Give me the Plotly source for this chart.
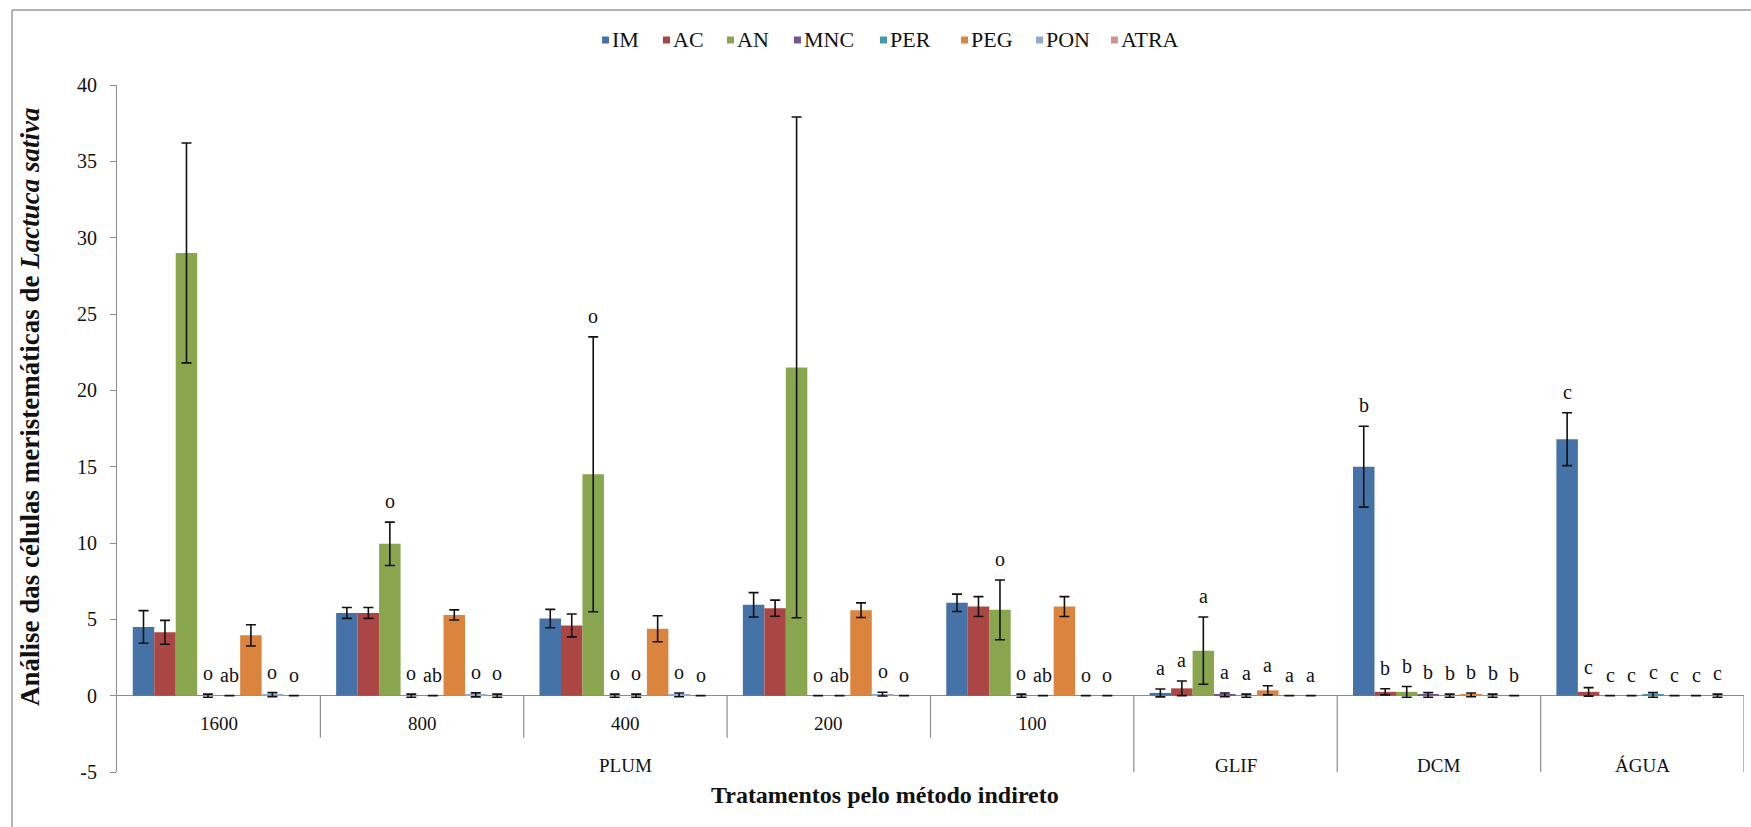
import plotly.graph_objects as go

# ---------------- data ----------------
groups = ["1600", "800", "400", "200", "100", "GLIF", "DCM", "ÁGUA"]
main_groups = ["PLUM", "GLIF", "DCM", "ÁGUA"]
series = ["IM", "AC", "AN", "MNC", "PER", "PEG", "PON", "ATRA"]
colors = ["#4572A7", "#AA4643", "#89A54E", "#71588F", "#4198AF", "#DB843D", "#93A9CF", "#D19392"]

# mean values per series (one value per group)
IM   = [4.5, 5.42, 5.05, 5.95, 6.08, 0.18, 15.0, 16.8]
AC   = [4.15, 5.42, 4.6, 5.73, 5.84, 0.48, 0.25, 0.25]
AN   = [29.0, 9.95, 14.5, 21.5, 5.62, 2.95, 0.25, 0.0]
MNC  = [0.0, 0.0, 0.0, 0.0, 0.0, 0.05, 0.05, 0.0]
PER  = [0.0, 0.0, 0.0, 0.0, 0.0, 0.0, 0.0, 0.05]
PEG  = [3.95, 5.29, 4.38, 5.6, 5.84, 0.35, 0.05, 0.0]
PON  = [0.07, 0.05, 0.05, 0.1, 0.0, 0.0, 0.0, 0.0]
ATRA = [0.0, 0.0, 0.0, 0.0, 0.0, 0.0, 0.0, 0.0]

# standard errors (None = no error bar drawn)
IM_err   = [1.07, 0.36, 0.6, 0.8, 0.57, 0.26, 2.65, 1.73]
AC_err   = [0.78, 0.36, 0.75, 0.53, 0.65, 0.48, 0.2, 0.28]
AN_err   = [7.2, 1.42, 9.0, 16.4, 1.96, 2.2, 0.35, 0.0]
MNC_err  = [0.1, 0.1, 0.1, None, 0.1, 0.12, 0.15, 0.0]
PER_err  = [None, None, 0.1, 0.0, 0.0, 0.1, 0.1, 0.15]
PEG_err  = [0.7, 0.33, 0.85, 0.48, 0.65, 0.3, 0.12, 0.0]
PON_err  = [0.13, 0.13, 0.12, 0.12, 0.0, 0.0, 0.1, 0.0]
ATRA_err = [0.0, 0.1, None, None, None, 0.0, 0.0, 0.1]

# significance letters ("" = none)
IM_lbl   = ["", "", "", "", "", "a", "b", "c"]
AC_lbl   = ["", "", "", "", "", "a", "b", "c"]
AN_lbl   = ["", "o", "o", "", "o", "a", "b", "c"]
MNC_lbl  = ["o", "o", "o", "o", "o", "a", "b", "c"]
PER_lbl  = ["ab", "ab", "o", "ab", "ab", "a", "b", "c"]
PEG_lbl  = ["", "", "", "", "", "a", "b", "c"]
PON_lbl  = ["o", "o", "o", "o", "o", "a", "b", "c"]
ATRA_lbl = ["o", "o", "o", "o", "o", "a", "b", "c"]

y_tick_vals = [-5, 0, 5, 10, 15, 20, 25, 30, 35, 40]
y_tick_text = ["-5", "0", "5", "10", "15", "20", "25", "30", "35", "40"]
y_title = "Análise das células meristemáticas de <i>Lactuca sativa</i>"
x_title = "Tratamentos pelo método indireto"

values = [IM, AC, AN, MNC, PER, PEG, PON, ATRA]
errors = [IM_err, AC_err, AN_err, MNC_err, PER_err, PEG_err, PON_err, ATRA_err]
labels = [IM_lbl, AC_lbl, AN_lbl, MNC_lbl, PER_lbl, PEG_lbl, PON_lbl, ATRA_lbl]

# ---------------- layout geometry (pixels) ----------------
W, H = 1751, 827
L, R, T, B = 117, 1744, 85, 772
BARGAP = 0.155
FONT = "Liberation Serif, Times New Roman, serif"


def px_x(p):
    return (p - L) / (R - L)


def px_y(p):
    return (B - p) / (B - T)


xs = list(range(len(groups)))
fig = go.Figure()
for name, col, v, e in zip(series, colors, values, errors):
    fig.add_trace(go.Bar(
        x=xs, y=v, name=name, marker=dict(color=col, line=dict(width=0)),
        error_y=dict(type="data", array=e, visible=True, color="#111111",
                     thickness=1.6, width=5),
        showlegend=False,
    ))

# letters above bars (positions derived from data + group layout)
annotations = []
n = len(series)
slot = (1 - BARGAP) / n
for i, (v, e, lb) in enumerate(zip(values, errors, labels)):
    off = -(1 - BARGAP) / 2 + (i + 0.5) * slot
    for g in range(len(groups)):
        if lb[g]:
            top = v[g] + (e[g] or 0)
            annotations.append(dict(
                x=g + off, y=top, xref="x", yref="y", text=lb[g], showarrow=False,
                xanchor="center", yanchor="middle", yshift=21,
                font=dict(family=FONT, size=20, color="#111111")))

# category labels
for g in range(5):
    annotations.append(dict(x=g, y=-1.8, xref="x", yref="y", text=groups[g],
                            xanchor="center", yanchor="middle",
                            showarrow=False, font=dict(family=FONT, size=19, color="#111111")))
main_pos = [2, 5, 6, 7]
for name, xp in zip(main_groups, main_pos):
    annotations.append(dict(x=xp, y=-4.6, xref="x", yref="y", text=name,
                            xanchor="center", yanchor="middle",
                            showarrow=False, font=dict(family=FONT, size=19, color="#111111")))

# axis titles
annotations.append(dict(x=px_x(885), y=px_y(795), xref="paper", yref="paper",
                        xanchor="center", yanchor="middle",
                        text="<b>" + x_title + "</b>", showarrow=False,
                        font=dict(family=FONT, size=24, color="#111111")))
annotations.append(dict(x=px_x(30), y=px_y(407), xref="paper", yref="paper",
                        xanchor="center", yanchor="middle",
                        text="<b>" + y_title + "</b>", showarrow=False, textangle=-90,
                        font=dict(family=FONT, size=27, color="#111111")))

# manual legend
leg_sq = [602, 663, 727, 794, 880, 961, 1036, 1111]
shapes = []
for name, col, sx in zip(series, colors, leg_sq):
    shapes.append(dict(type="rect", xref="paper", yref="paper",
                       x0=px_x(sx), x1=px_x(sx + 7), y0=px_y(43.5), y1=px_y(36.5),
                       fillcolor=col, line=dict(width=0)))
    annotations.append(dict(x=px_x(sx + 8), y=px_y(40), xref="paper", yref="paper",
                            text=name, showarrow=False, xanchor="left", yanchor="middle",
                            font=dict(family=FONT, size=22, color="#111111")))

# category dividers
grey = "#8C8C8C"
for xd in [0.5, 1.5, 2.5, 3.5]:
    shapes.append(dict(type="line", xref="x", yref="y", x0=xd, x1=xd, y0=0, y1=-2.75,
                       line=dict(color=grey, width=1.2)))
for xd in [4.5, 5.5, 6.5, 7.5]:
    shapes.append(dict(type="line", xref="x", yref="y", x0=xd, x1=xd, y0=0, y1=-5.4,
                       line=dict(color=grey, width=1.2)))

# chart frame (left and top edges)
shapes.append(dict(type="line", xref="paper", yref="paper", x0=px_x(12), x1=px_x(12),
                   y0=px_y(10), y1=px_y(840), line=dict(color="#999999", width=1.5)))
shapes.append(dict(type="line", xref="paper", yref="paper", x0=px_x(12), x1=px_x(1760),
                   y0=px_y(10), y1=px_y(10), line=dict(color="#999999", width=1.5)))

fig.update_layout(
    width=W, height=H,
    margin=dict(l=L, r=W - R, t=T, b=H - B, pad=0),
    paper_bgcolor="white", plot_bgcolor="white",
    barmode="group", bargap=BARGAP, bargroupgap=0,
    annotations=annotations, shapes=shapes,
    xaxis=dict(range=[-0.5, 7.5], visible=False, fixedrange=True),
    yaxis=dict(range=[-5, 40], tickvals=y_tick_vals, ticktext=y_tick_text,
               ticks="outside", ticklen=6,
               tickcolor=grey, showline=True, linecolor=grey, linewidth=1.2,
               showgrid=False, zeroline=True, zerolinecolor=grey, zerolinewidth=1.2,
               tickfont=dict(family=FONT, size=20, color="#111111"), ticklabelstandoff=9),
    showlegend=False,
)

fig.write_html("out.html")
